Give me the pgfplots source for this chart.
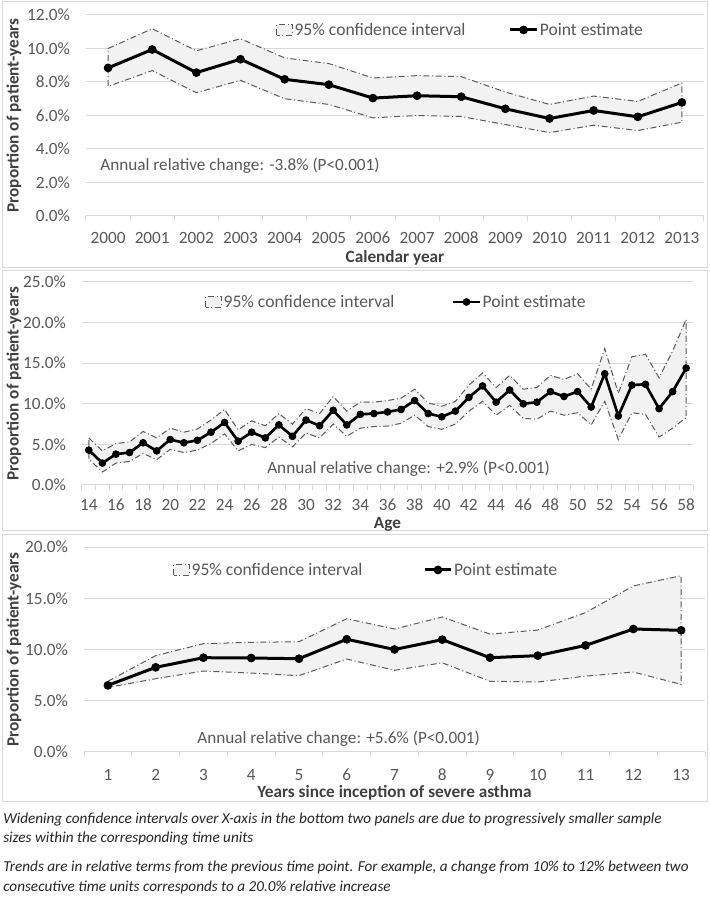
\documentclass[border=0pt]{standalone}
\usepackage{fontspec}
\setmainfont{Carlito}
\usepackage{pgfplots}
\pgfplotsset{compat=1.18}
\usepackage{pgfplotstable}

\definecolor{gridc}{HTML}{D9D9D9}
\definecolor{txt}{HTML}{595959}
\definecolor{ttl}{HTML}{404040}
\definecolor{cifill}{HTML}{F2F2F2}
\definecolor{cidraw}{HTML}{595959}
\definecolor{foot}{HTML}{262626}

\newcommand\cf{\fontsize{12.9}{15.5}\selectfont}
\newcommand\lf{\fontsize{13.2}{15.8}\selectfont}
\newcommand\ff{\fontsize{11.4}{13.7}\selectfont}

% point estimates
\pgfplotstableread{
x est
2000 8.84
2001 9.94
2002 8.56
2003 9.36
2004 8.16
2005 7.84
2006 7.04
2007 7.18
2008 7.12
2009 6.40
2010 5.82
2011 6.30
2012 5.92
2013 6.78
}\tabyear
% 95% CI outline: upper bound forward, lower bound backward
\pgfplotstableread{
x y
2000 10.0
2001 11.18
2002 9.86
2003 10.58
2004 9.44
2005 9.10
2006 8.24
2007 8.38
2008 8.32
2009 7.40
2010 6.66
2011 7.16
2012 6.84
2013 7.94
2013 5.60
2012 5.10
2011 5.42
2010 4.98
2009 5.46
2008 5.94
2007 6.00
2006 5.86
2005 6.66
2004 7.00
2003 8.10
2002 7.36
2001 8.68
2000 7.74
2000 10.0
}\ciyear

\pgfplotstableread{
x est
14 4.3
15 2.7
16 3.8
17 4.0
18 5.2
19 4.2
20 5.6
21 5.2
22 5.5
23 6.5
24 7.7
25 5.4
26 6.5
27 5.8
28 7.4
29 6.0
30 8.0
31 7.3
32 9.2
33 7.4
34 8.7
35 8.8
36 9.0
37 9.3
38 10.4
39 8.8
40 8.4
41 9.1
42 10.8
43 12.2
44 10.2
45 11.7
46 10.0
47 10.2
48 11.5
49 10.9
50 11.5
51 9.6
52 13.7
53 8.5
54 12.3
55 12.4
56 9.4
57 11.5
58 14.4
}\tabage
\pgfplotstableread{
x y
14 5.8
15 4.2
16 5.1
17 5.3
18 6.6
19 5.8
20 7.0
21 6.5
22 6.9
23 8.0
24 9.3
25 6.8
26 7.9
27 7.3
28 8.8
29 7.5
30 9.4
31 8.8
32 10.9
33 9.1
34 10.2
35 10.2
36 10.4
37 10.7
38 11.8
39 10.1
40 9.7
41 10.3
42 12.3
43 13.8
44 12.0
45 13.5
46 11.8
47 12.0
48 13.5
49 13.0
50 13.7
51 11.8
52 16.8
53 11.3
54 15.8
55 16.1
56 13.2
57 16.5
58 20.4
58 8.3
57 7.0
56 5.9
55 8.7
54 8.9
53 5.6
52 10.3
51 7.4
50 8.9
49 8.6
48 9.1
47 8.1
46 8.2
45 9.8
44 8.6
43 10.3
42 9.1
41 7.5
40 6.85
39 7.2
38 8.6
37 7.6
36 7.25
35 7.2
34 7.0
33 6.0
32 7.5
31 5.8
30 6.4
29 4.7
28 5.9
27 4.6
26 5.0
25 4.2
24 6.3
23 5.1
22 4.3
21 4.0
20 4.4
19 3.1
18 3.9
17 2.9
16 2.7
15 1.6
14 3.2
14 5.8
}\ciage

\pgfplotstableread{
x est
1 6.50
2 8.26
3 9.20
4 9.17
5 9.10
6 11.00
7 10.00
8 10.96
9 9.20
10 9.40
11 10.40
12 12.00
13 11.87
}\tabinc
\pgfplotstableread{
x y
1 6.90
2 9.40
3 10.57
4 10.70
5 10.76
6 13.00
7 12.00
8 13.17
9 11.50
10 11.90
11 13.60
12 16.20
13 17.20
13 6.60
12 7.80
11 7.40
10 6.83
9 6.90
8 8.70
7 7.97
6 9.07
5 7.45
4 7.70
3 7.90
2 7.15
1 6.30
1 6.90
}\ciinc

\pgfplotsset{
  panel/.style={
    scale only axis,
    anchor=south west,
    axis x line*=bottom,
    axis y line*=left,
    y axis line style={draw=none},
    x axis line style={draw=gridc, line width=0.75pt},
    ymajorgrids,
    major grid style={gridc, line width=0.75pt},
    major tick length=0pt,
    minor tick length=3.5pt,
    tick align=outside,
    minor tick style={gridc, line width=0.75pt},
    ytick style={draw=none},
    tick label style={font=\cf, text=txt},
    /pgf/number format/assume math mode=true,
    /pgf/number format/1000 sep={},
    yticklabel={\pgfmathprintnumber[fixed,fixed zerofill,precision=1]{\tick}\%},
    xticklabel={\pgfmathprintnumber{\tick}},
    x tick label style={anchor=base, yshift=-20.6pt},
    y tick label style={anchor=east, xshift=-8.5pt},
    label style={font=\cf\bfseries, text=ttl},
    legend style={draw=none, fill=none, font=\lf, text=txt, legend columns=2,
      inner sep=0pt, anchor=west, nodes={inner sep=1pt}},
    clip=false,
  },
  ci/.style={fill=cifill, draw=cidraw, line width=0.75pt,
    dash pattern=on 4.5pt off 2pt on 0.75pt off 2pt,
    legend image code/.code={\draw[##1] (0pt,-3.8pt) rectangle (12pt,3.8pt);}},
  est/.style={black, line width=2.25pt, line join=round, mark=*, mark size=3pt,
    mark options={solid, fill=black, line width=0.5pt},
    legend image code/.code={\draw[mark repeat=2,mark phase=2,##1] plot coordinates {(0pt,0pt) (10pt,0pt) (20pt,0pt)};}},
}

\begin{document}
\begin{tikzpicture}
\path[fill=white, use as bounding box] (0pt,0pt) rectangle (532.5pt,683.25pt);
% panel frames
\draw[gridc, line width=0.75pt] (1.5pt,482.25pt) rectangle (530.25pt,681.75pt);
\draw[gridc, line width=0.75pt] (1.5pt,285pt) rectangle (530.25pt,480pt);
\draw[gridc, line width=0.75pt] (1.5pt,81.75pt) rectangle (530.25pt,282pt);

% ---------- Panel 1 ----------
\begin{axis}[panel,
  at={(64.5pt,521.25pt)}, width=463.5pt, height=150.75pt,
  xmin=1999.5, xmax=2013.5, ymin=0, ymax=12,
  ytick={0,2,...,12},
  xtick={2000,...,2013},
  minor xtick={1999.5,2000.5,...,2013.5},
  xlabel={Calendar year},
  ylabel={Proportion of patient-years},
  xlabel style={at={(axis description cs:0.5,-0.209)}, anchor=center},
  ylabel style={at={(axis description cs:-0.1165,0.5)}, anchor=center},
  legend style={at={(axis description cs:0.3074,0.9254)},
    /tikz/every even column/.append style={column sep=31.5pt}},
]
\addplot[ci] table[x=x, y=y] {\ciyear};
\addlegendentry{95\% confidence interval}
\addplot[est] table[x=x, y=est] {\tabyear};
\addlegendentry{Point estimate}
\node[anchor=west, font=\cf, text=txt, inner sep=0pt] at (axis description cs:0.0227,0.2488) {Annual relative change: -3.8\% (P<0.001)};
\end{axis}

% ---------- Panel 2 ----------
\begin{axis}[panel,
  at={(61.5pt,319.5pt)}, width=458.25pt, height=152.25pt,
  xmin=13.5, xmax=58.5, ymin=0, ymax=25,
  ytick={0,5,...,25},
  xtick={14,16,...,58},
  minor xtick={13.5,14.5,...,58.5},
  x tick label style={yshift=1.5pt},
  xlabel={Age},
  ylabel={Proportion of patient-years},
  xlabel style={at={(axis description cs:0.5,-0.192)}, anchor=center},
  ylabel style={at={(axis description cs:-0.1113,0.5)}, anchor=center},
  legend style={at={(axis description cs:0.2013,0.9015)},
    /tikz/every even column/.append style={column sep=42pt}},
]
\addplot[ci] table[x=x, y=y] {\ciage};
\addlegendentry{95\% confidence interval}
\addplot[est, mark size=2.6pt, line width=2pt] table[x=x, y=est] {\tabage};
\addlegendentry{Point estimate}
\node[anchor=west, font=\cf, text=txt, inner sep=0pt] at (axis description cs:0.3028,0.0788) {Annual relative change: +2.9\% (P<0.001)};
\end{axis}

% ---------- Panel 3 ----------
\begin{axis}[panel,
  at={(63pt,119.25pt)}, width=465.75pt, height=153.75pt,
  xmin=0.5, xmax=13.5, ymin=0, ymax=20,
  ytick={0,5,...,20},
  xtick={1,...,13},
  minor xtick={0.5,1.5,...,13.5},
  x tick label style={yshift=-0.8pt},
  xlabel={Years since inception of severe asthma},
  ylabel={Proportion of patient-years},
  xlabel style={at={(axis description cs:0.5,-0.2)}, anchor=center},
  ylabel style={at={(axis description cs:-0.1127,0.5)}, anchor=center},
  legend style={at={(axis description cs:0.1433,0.888)},
    /tikz/every even column/.append style={column sep=44.5pt}},
]
\addplot[ci] table[x=x, y=y] {\ciinc};
\addlegendentry{95\% confidence interval}
\addplot[est] table[x=x, y=est] {\tabinc};
\addlegendentry{Point estimate}
\node[anchor=west, font=\cf, text=txt, inner sep=0pt] at (axis description cs:0.182,0.0634) {Annual relative change: +5.6\% (P<0.001)};
\end{axis}

% ---------- Footnotes ----------
\begin{scope}[every node/.style={anchor=west, inner sep=0pt, font=\ff\itshape, text=foot}]
\node at (2.25pt,68.25pt) {Widening confidence intervals over X-axis in the bottom two panels are due to progressively smaller sample};
\node at (2.25pt,54pt) {sizes within the corresponding time units};
\node at (2.25pt,32.25pt) {Trends are in relative terms from the previous time point. For example, a change from 10\% to 12\% between two};
\node at (2.25pt,18pt) {consecutive time units corresponds to a 20.0\% relative increase};
\end{scope}
\end{tikzpicture}
\end{document}
